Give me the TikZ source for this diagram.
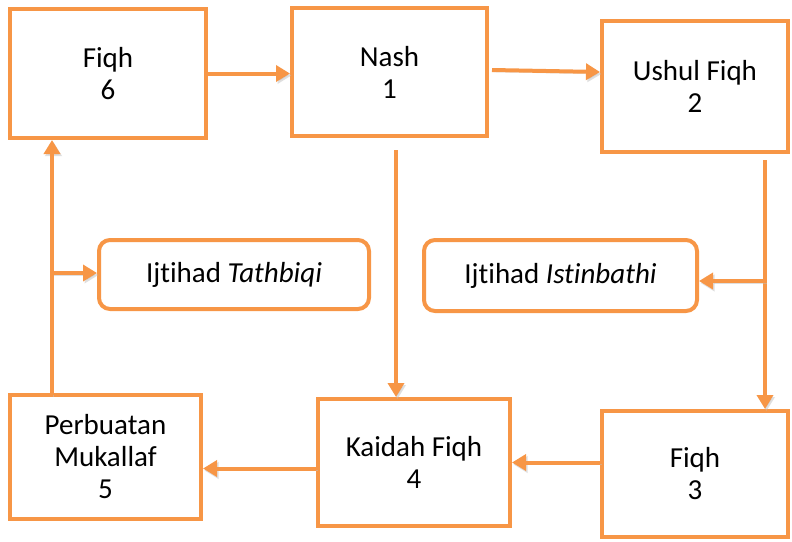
\documentclass[tikz,border=0pt]{standalone}
\usepackage{fontspec}
\setmainfont{Carlito}[Ligatures=NoCommon]
\usetikzlibrary{arrows.meta}
\definecolor{org}{HTML}{F79646}
\tikzset{
  box/.style={draw=org, line width=4pt, fill=white, align=center,
    font=\fontsize{29}{32}\selectfont, inner sep=0pt},
  rbox/.style={box, rounded corners=11pt},
  conn/.style={draw=org, line width=4pt, -{Triangle[width=16pt,length=14pt]},
    preaction={draw=black!25, opacity=0.5, transform canvas={shift={(1.5pt,-2pt)}}}}
}
\begin{document}
\begin{tikzpicture}[x=1pt,y=-1pt]
\useasboundingbox (0,0) rectangle (792,541);
\node[box, minimum width=196pt, minimum height=129pt] (f6) at (108,73.5) {Fiqh\\6};
\node[box, minimum width=195pt, minimum height=128pt] (n1) at (389.5,72) {Nash\\1};
\node[box, minimum width=186pt, minimum height=131pt] (u2) at (695,86.5) {Ushul Fiqh\\2};
\node[box, minimum width=186pt, minimum height=126pt] (f3) at (695,474) {Fiqh\\3};
\node[box, minimum width=192pt, minimum height=127pt] (k4) at (414,462.5) {Kaidah Fiqh\\4};
\node[box, minimum width=191pt, minimum height=124pt] (p5) at (105.5,457) {Perbuatan\\Mukallaf\\5};
\node[rbox, minimum width=270pt, minimum height=69pt] (i1) at (234,274.5) {Ijtihad \textit{Tathbiqi}};
\node[rbox, minimum width=273pt, minimum height=71pt] (i2) at (560.5,275.5) {Ijtihad \textit{Istinbathi}};

\coordinate (ua) at (765,160);
\coordinate (ub) at (765,281);
\coordinate (na) at (396,150);
\coordinate (nb) at (492,70);
\coordinate (pa) at (52,395);
\coordinate (pb) at (52,273);

\draw[conn] (f6.east) -- (n1.west |- f6.east);
\draw[conn] (nb) -- (u2.west |- n1.east);
\draw[conn] (ua) -- (ua |- f3.north);
\draw[conn] (ub) -- (ub -| i2.east);
\draw[conn] (na) -- (na |- k4.north);
\draw[conn] (f3.west |- k4.east) -- (k4.east);
\draw[conn] ([yshift=-6pt]k4.west) -- ([yshift=-6pt]k4.west -| p5.east);
\draw[conn] (pa) -- (pa |- f6.south);
\draw[conn] (pb) -- (pb -| i1.west);
\end{tikzpicture}
\end{document}
